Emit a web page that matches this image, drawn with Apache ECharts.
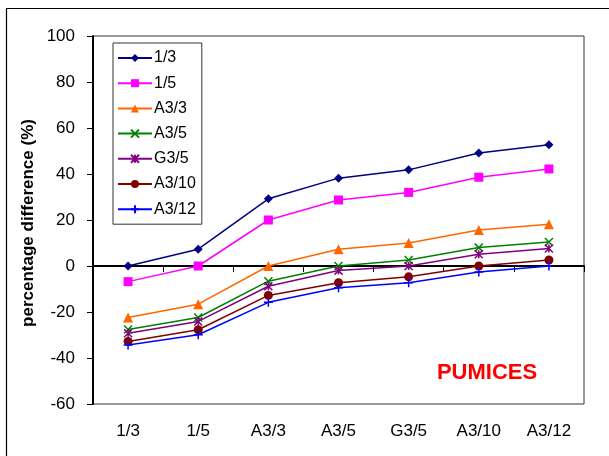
<!DOCTYPE html>
<html>
<head>
<meta charset="utf-8">
<script src="https://cdn.jsdelivr.net/npm/echarts@6/dist/echarts.min.js"></script>
<style>
  html, body { margin: 0; padding: 0; background: #fff; }
  #chart { width: 609px; height: 456px; }
</style>
</head>
<body>
<div id="chart"></div>
<script>
// Mix categories along the x axis
const categories = ['1/3', '1/5', 'A3/3', 'A3/5', 'G3/5', 'A3/10', 'A3/12'];

// Percentage difference of each mix relative to the reference mix named by the series
const ref13  = [0, 7.3, 29.2, 38.2, 41.8, 49.1, 52.7];
const ref15  = [-6.8, 0, 20, 28.7, 32, 38.6, 42.2];
const refA33 = [-22.4, -16.6, 0, 7.3, 10, 15.7, 18.2];
const refA35 = [-27.6, -22.4, -6.6, 0, 2.6, 8, 10.4];
const refG35 = [-29.2, -24.1, -8.8, -2, 0, 5.1, 7.6];
const refA310 = [-32.8, -27.7, -12.8, -7.3, -4.7, 0, 2.6];
const refA312 = [-34.3, -29.9, -15.8, -9.5, -7.3, -2.6, 0];

// Y axis range and tick step
const yMin = -60, yMax = 100, yStep = 20;

const FONT = 'Liberation Sans, Arial, sans-serif';

const crossPath = 'path://M0,0L10,10M10,0L0,10';
const starPath = 'path://M0,0L10,10M10,0L0,10M5,0L5,10';
const plusPath = 'path://M5,0L5,10M0,5L10,5';

function lineSeries(name, data, color, symbol, size, stroked) {
  return {
    name: name,
    type: 'line',
    data: data,
    symbol: symbol,
    symbolSize: size,
    showAllSymbol: true,
    lineStyle: { color: color, width: 1.5 },
    itemStyle: stroked
      ? { color: color, borderColor: color, borderWidth: 1.5 }
      : { color: color, borderWidth: 0 },
    emphasis: { disabled: true },
    animation: false
  };
}

const chart = echarts.init(document.getElementById('chart'), null, { renderer: 'canvas' });

chart.setOption({
  animation: false,
  backgroundColor: '#fff',
  grid: {
    left: 93, right: 25, top: 36, bottom: 52,
    show: true, borderColor: '#333', borderWidth: 1
  },
  legend: {
    orient: 'vertical',
    left: 113, top: 43,
    width: 87,
    padding: [7, 6, 7, 4],
    itemGap: 9.2,
    itemWidth: 34,
    itemHeight: 10,
    borderColor: '#333',
    borderWidth: 1,
    backgroundColor: '#fff',
    textStyle: { fontFamily: FONT, fontSize: 16, color: '#000', padding: [0, 0, 0, -3] },
    data: ['1/3', '1/5', 'A3/3', 'A3/5', 'G3/5', 'A3/10', 'A3/12']
  },
  xAxis: {
    type: 'category',
    data: categories,
    boundaryGap: true,
    axisLine: { lineStyle: { color: '#000', width: 2 } },
    axisTick: { show: true, length: 6, inside: false, lineStyle: { color: '#000', width: 1 } },
    axisLabel: { fontFamily: FONT, fontSize: 17, color: '#000', margin: 19 },
    splitLine: { show: false }
  },
  yAxis: {
    type: 'value',
    min: yMin, max: yMax, interval: yStep,
    axisLine: { show: true, lineStyle: { color: '#000', width: 2 } },
    axisTick: { show: true, length: 6, lineStyle: { color: '#000', width: 1 } },
    axisLabel: { fontFamily: FONT, fontSize: 17, color: '#000', margin: 18 },
    splitLine: { show: false }
  },
  graphic: [
    {
      type: 'rect',
      shape: { x: 6.5, y: 8.5, width: 700, height: 600 },
      style: { fill: 'none', stroke: '#000', lineWidth: 1.2 },
      silent: true,
      z: -1
    },
    {
      type: 'text',
      x: 28.5, y: 223,
      rotation: Math.PI / 2,
      style: {
        text: 'percentage difference (%)',
        font: 'bold 17px ' + FONT,
        fill: '#000',
        textAlign: 'center',
        textVerticalAlign: 'middle'
      }
    },
    {
      type: 'text',
      x: 487, y: 373,
      style: {
        text: 'PUMICES',
        font: 'bold 22px ' + FONT,
        fill: '#ff0000',
        textAlign: 'center',
        textVerticalAlign: 'middle'
      }
    }
  ],
  series: [
    lineSeries('1/3', ref13, '#000080', 'diamond', 9, false),
    lineSeries('1/5', ref15, '#ff00ff', 'rect', 9, false),
    lineSeries('A3/3', refA33, '#ff6600', 'triangle', 10, false),
    lineSeries('A3/5', refA35, '#008000', crossPath, 8, true),
    lineSeries('G3/5', refG35, '#800080', starPath, 8, true),
    lineSeries('A3/10', refA310, '#800000', 'circle', 9, false),
    lineSeries('A3/12', refA312, '#0000ff', plusPath, 9, true)
  ]
});
</script>
</body>
</html>
